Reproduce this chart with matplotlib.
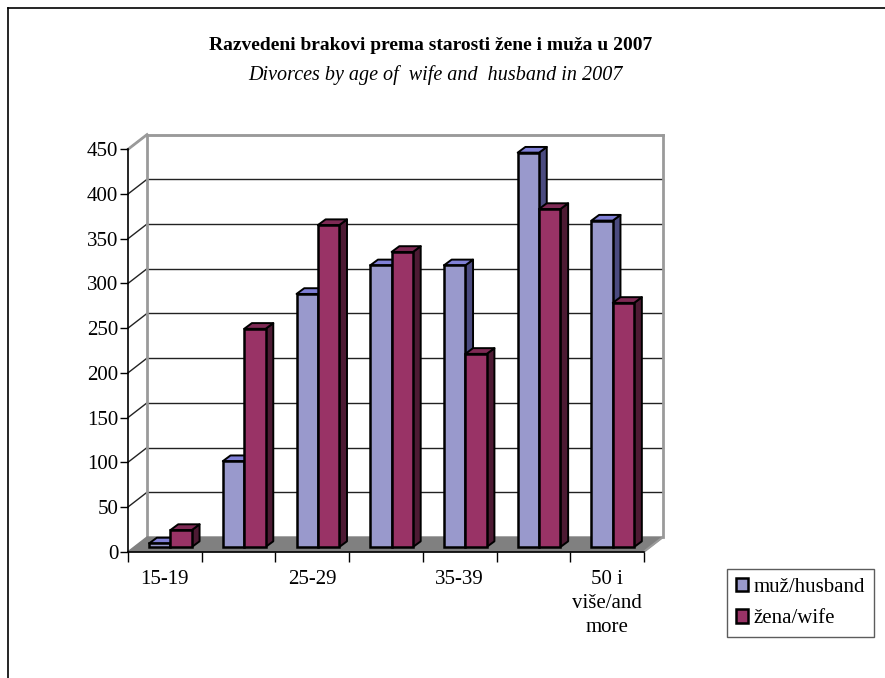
import matplotlib
matplotlib.use("Agg")
import matplotlib.pyplot as plt
from matplotlib.patches import Polygon, Rectangle
from matplotlib.lines import Line2D
import numpy as np

categories = ["15-19", "20-24", "25-29", "30-34", "35-39", "40-49", "50 i\nviše/and\nmore"]
husband = [4, 96, 283, 315, 315, 441, 365]
wife = [19, 244, 360, 330, 216, 378, 273]
series_names = ["muž/husband", "žena/wife"]
yticks = [0, 50, 100, 150, 200, 250, 300, 350, 400, 450]
title = "Razvedeni brakovi prema starosti žene i muža u 2007"
subtitle = "Divorces by age of  wife and  husband in 2007"

front_cols = ["#9999CC", "#993366"]
top_cols = ["#8080D6", "#7F2A55"]
side_cols = ["#4B4B80", "#4D1A33"]

plt.rcParams['font.family'] = ['Liberation Serif', 'DejaVu Serif']

W, H = 885, 678
fig = plt.figure(figsize=(W / 100, H / 100), dpi=100)

# front plane in pixels
L, R, B, T = 128, 644, 551.7, 149.3
ax = fig.add_axes([L / W, (H - B) / H, (R - L) / W, (B - T) / H])
n = len(categories)
ax.set_xlim(-0.5, n - 0.5)
ax.set_ylim(0, 450)

pxx = (R - L) / n           # pixels per x unit
pxy = (B - T) / 450.0       # pixels per y unit


def off(px_dx, px_dy):
    return px_dx / pxx, px_dy / pxy

# back wall depth
wdx, wdy = off(19, 14.7)
x0, x1 = -0.5, n - 0.5

# floor
floor = Polygon([(x0, 0), (x1, 0), (x1 + wdx, wdy), (x0 + wdx, wdy)],
                closed=True, facecolor="#808080", edgecolor="#808080",
                lw=1, zorder=1, clip_on=False)
ax.add_patch(floor)

# gridlines on back wall and left wall
for v in yticks[1:]:
    ax.add_line(Line2D([x0 + wdx, x1 + wdx], [v + wdy, v + wdy], color="#222222",
                       lw=1, zorder=0.5, clip_on=False))
    ax.add_line(Line2D([x0, x0 + wdx], [v, v + wdy], color="#222222",
                       lw=1, zorder=0.5, clip_on=False))
# wall edges
wall_c = "#9a9a9a"
ax.add_line(Line2D([x0 + wdx, x0 + wdx], [wdy, 450 + wdy], color=wall_c, lw=2, zorder=0.6, clip_on=False))
ax.add_line(Line2D([x0 + wdx, x1 + wdx], [450 + wdy, 450 + wdy], color=wall_c, lw=2, zorder=0.6, clip_on=False))
ax.add_line(Line2D([x1 + wdx, x1 + wdx], [wdy, 450 + wdy], color=wall_c, lw=2, zorder=0.6, clip_on=False))
ax.add_line(Line2D([x0, x0 + wdx], [450, 450 + wdy], color=wall_c, lw=2, zorder=0.6, clip_on=False))
ax.add_line(Line2D([x1, x1 + wdx], [0, wdy], color=wall_c, lw=1.5, zorder=1.2, clip_on=False))

# bars
bdx, bdy = off(6, 4.7)      # bar plane offset
ddx, ddy = off(7.7, 5.7)    # bar depth
w = 0.29
shifts = [-0.15, 0.14]
z = 2
for i in range(n):
    for s, vals in enumerate([husband, wife]):
        v = vals[i]
        xl = i + shifts[s] - w / 2 + bdx
        xr = xl + w
        yb = bdy
        yt = v + bdy
        ax.add_patch(Polygon([(xr, yb), (xr + ddx, yb + ddy), (xr + ddx, yt + ddy), (xr, yt)],
                             closed=True, facecolor=side_cols[s], edgecolor="black",
                             lw=1.4, zorder=z, clip_on=False, joinstyle="round"))
        ax.add_patch(Polygon([(xl, yt), (xr, yt), (xr + ddx, yt + ddy), (xl + ddx, yt + ddy)],
                             closed=True, facecolor=top_cols[s], edgecolor="black",
                             lw=1.4, zorder=z, clip_on=False, joinstyle="round"))
        ax.bar(i + shifts[s] + bdx, v, width=w, bottom=bdy, color=front_cols[s],
               edgecolor="black", linewidth=1.8, zorder=z + 0.1, clip_on=False)
        z += 0.2

# axes styling
for sp in ["top", "right"]:
    ax.spines[sp].set_visible(False)
ax.spines["left"].set_color("black")
ax.spines["bottom"].set_color("black")
ax.spines["left"].set_linewidth(1.2)
ax.spines["bottom"].set_linewidth(1.2)
ax.spines["left"].set_zorder(1.5)
ax.spines["bottom"].set_zorder(1.5)
ax.set_yticks(yticks)
ax.set_yticklabels([str(v) for v in yticks], fontsize=15)
ax.tick_params(axis="y", direction="out", length=6, width=1, pad=1)
ax.set_xticks(range(n))
ax.set_xticklabels([c if i % 2 == 0 else "" for i, c in enumerate(categories)],
                   fontsize=15, linespacing=1.38, va="top")
ax.tick_params(axis="x", which="major", length=0, pad=13)
ax.set_xticks(np.arange(-0.5, n, 1.0), minor=True)
ax.tick_params(axis="x", which="minor", direction="out", length=7, width=1)
ax.patch.set_visible(False)

# titles
fig.text(431 / W, 1 - 46 / H, title, ha="center", va="center", fontsize=14, fontweight="bold")
fig.text(435 / W, 1 - 75 / H, subtitle, ha="center", va="center", fontsize=14.5, style="italic")

# legend
handles = [Rectangle((0, 0), 1, 1, facecolor=front_cols[k], edgecolor="black", lw=1.8)
           for k in range(2)]
leg = fig.legend(handles, series_names, loc="upper left",
                 bbox_to_anchor=(727 / W, 1 - 569 / H), fontsize=15,
                 frameon=True, fancybox=False, edgecolor="#333333",
                 handlelength=0.6, handleheight=0.6, handletextpad=0.25,
                 borderpad=0.42, labelspacing=0.6, borderaxespad=0)
leg.get_frame().set_linewidth(1)

# outer border (left and top only visible)
fig.add_artist(Line2D([8 / W, 8 / W], [0, 1 - 7.5 / H], transform=fig.transFigure, color="black", lw=1.2))
fig.add_artist(Line2D([8 / W, 1], [1 - 7.5 / H, 1 - 7.5 / H], transform=fig.transFigure, color="black", lw=1.2))

fig.savefig("out.png", dpi=100)
